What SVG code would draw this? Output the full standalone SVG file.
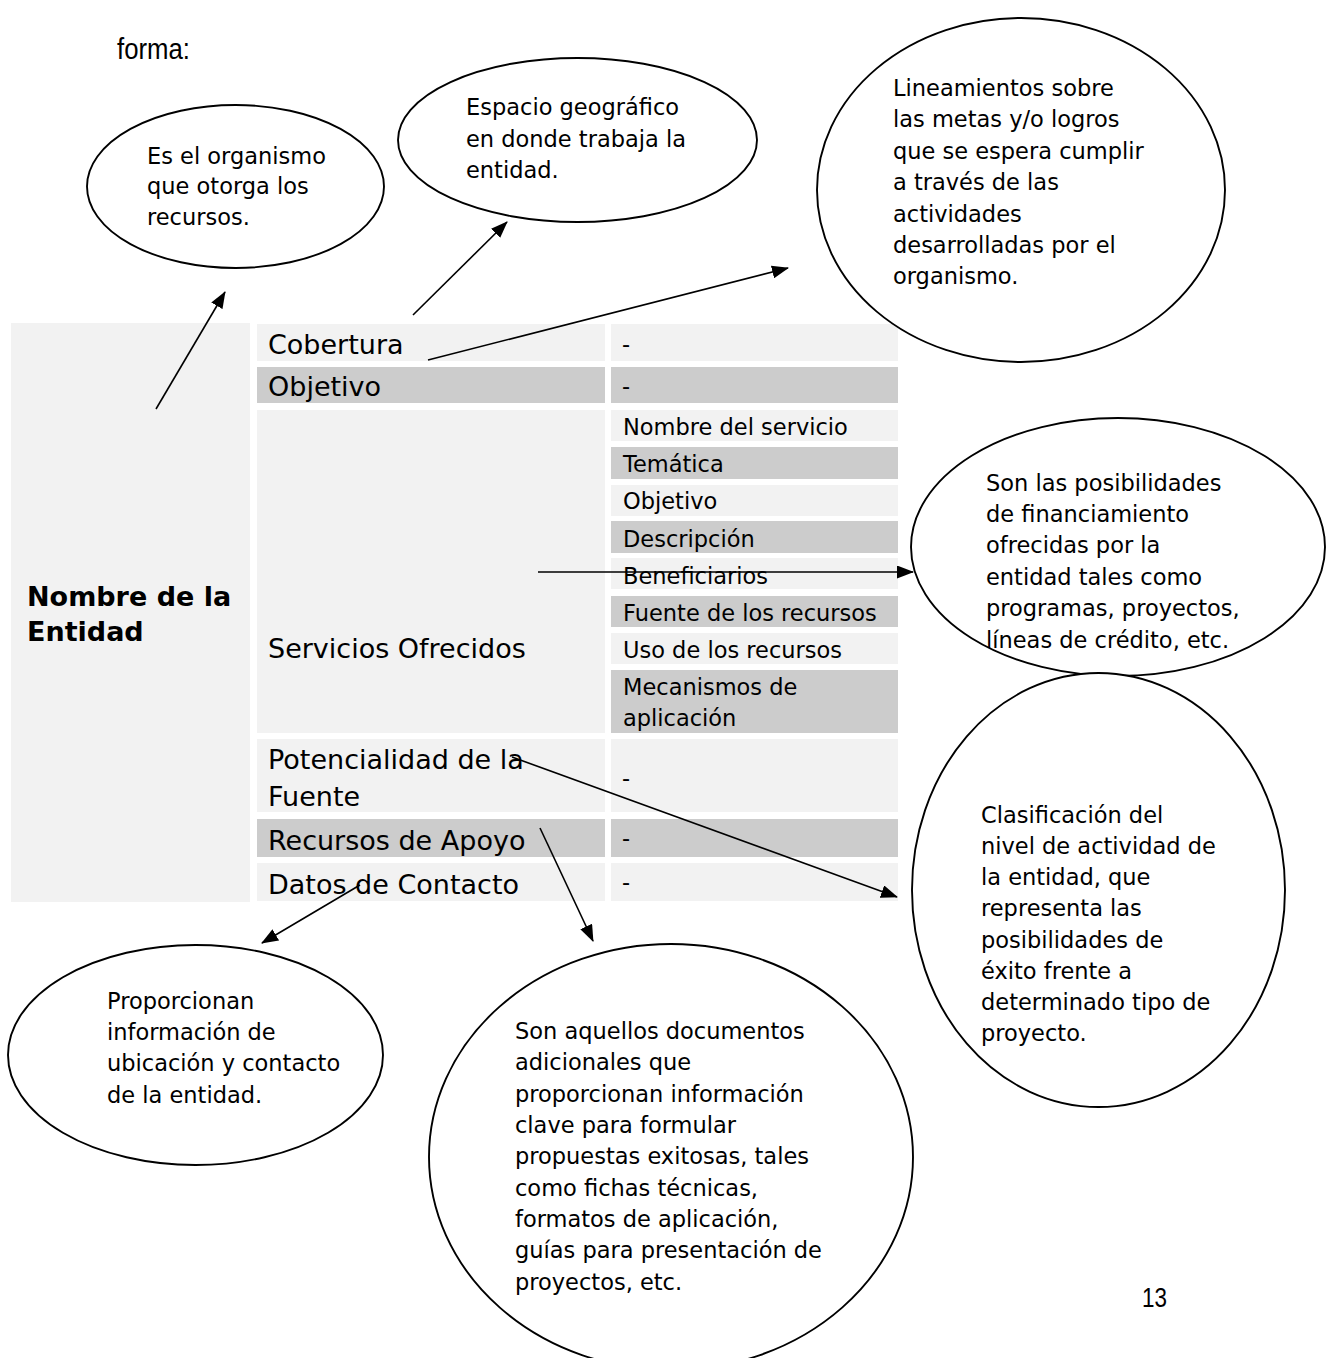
<svg xmlns="http://www.w3.org/2000/svg" width="1332" height="1358" viewBox="0 0 1332 1358">
<style>
.lt{fill:#f2f2f2}
.dk{fill:#cccccc}
.big{font-family:"DejaVu Sans",Verdana,sans-serif;font-size:27px;fill:#000}
.bold{font-family:"DejaVu Sans",Verdana,sans-serif;font-size:27px;font-weight:bold;fill:#000}
.sm{font-family:"DejaVu Sans",Verdana,sans-serif;font-size:22.5px;fill:#000}
.bub{fill:#fff;stroke:#000;stroke-width:1.9}
.con{stroke:#000;stroke-width:1.6;fill:none;marker-end:url(#ah)}
.plain{font-family:"Liberation Sans",Arial,sans-serif;fill:#000}
</style>
<defs>
<marker id="ah" markerUnits="userSpaceOnUse" markerWidth="17" markerHeight="13" refX="16" refY="6.5" orient="auto">
<path d="M0,0 L17,6.5 L0,13 z" fill="#000"/>
</marker>
</defs>
<rect width="1332" height="1358" fill="#fff"/>
<text class="plain" x="117" y="59" font-size="30" textLength="73" lengthAdjust="spacingAndGlyphs">forma:</text>
<text class="plain" x="1142" y="1307" font-size="27" textLength="25" lengthAdjust="spacingAndGlyphs">13</text>

<g id="table">
<rect class="lt" x="11" y="323" width="239" height="579"/>
<text class="bold" x="27" y="606">Nombre de la</text>
<text class="bold" x="27" y="641">Entidad</text>

<rect class="lt" x="257" y="324" width="348" height="37"/>
<text class="big" x="268" y="354">Cobertura</text>
<rect class="lt" x="611" y="324" width="287" height="37"/>
<text class="sm" x="622" y="352">-</text>

<rect class="dk" x="257" y="367" width="348" height="36"/>
<text class="big" x="268" y="396">Objetivo</text>
<rect class="dk" x="611" y="367" width="287" height="36"/>
<text class="sm" x="622" y="394">-</text>

<rect class="lt" x="257" y="410" width="348" height="323"/>
<text class="big" x="268" y="658">Servicios Ofrecidos</text>
<rect class="lt" x="611" y="410" width="287" height="31"/>
<text class="sm" x="623" y="435">Nombre del servicio</text>
<rect class="dk" x="611" y="447" width="287" height="32"/>
<text class="sm" x="623" y="472">Temática</text>
<rect class="lt" x="611" y="485" width="287" height="31"/>
<text class="sm" x="623" y="509">Objetivo</text>
<rect class="dk" x="611" y="521" width="287" height="32"/>
<text class="sm" x="623" y="547">Descripción</text>
<rect class="lt" x="611" y="558" width="287" height="31"/>
<text class="sm" x="623" y="584">Beneficiarios</text>
<rect class="dk" x="611" y="596" width="287" height="31"/>
<text class="sm" x="623" y="621">Fuente de los recursos</text>
<rect class="lt" x="611" y="633" width="287" height="31"/>
<text class="sm" x="623" y="658">Uso de los recursos</text>
<rect class="dk" x="611" y="670" width="287" height="63"/>
<text class="sm" x="623" y="695">Mecanismos de</text>
<text class="sm" x="623" y="726">aplicación</text>

<rect class="lt" x="257" y="739" width="348" height="73"/>
<text class="big" x="268" y="769">Potencialidad de la</text>
<text class="big" x="268" y="806">Fuente</text>
<rect class="lt" x="611" y="739" width="287" height="73"/>
<text class="sm" x="622" y="786">-</text>

<rect class="dk" x="257" y="819" width="348" height="38"/>
<text class="big" x="268" y="850">Recursos de Apoyo</text>
<rect class="dk" x="611" y="819" width="287" height="38"/>
<text class="sm" x="622" y="846">-</text>

<rect class="lt" x="257" y="863" width="348" height="38"/>
<text class="big" x="268" y="894">Datos de Contacto</text>
<rect class="lt" x="611" y="863" width="287" height="38"/>
<text class="sm" x="622" y="890">-</text>
</g>

<g id="bubble-organismo">
<ellipse class="bub" cx="235.5" cy="186.5" rx="148.5" ry="81.5"/>
<text class="sm" x="147" y="164">Es el organismo</text>
<text class="sm" x="147" y="194">que otorga los</text>
<text class="sm" x="147" y="225">recursos.</text>
</g>

<g id="bubble-cobertura">
<ellipse class="bub" cx="577.5" cy="140" rx="179.5" ry="82"/>
<text class="sm" x="466" y="115">Espacio geográfico</text>
<text class="sm" x="466" y="147">en donde trabaja la</text>
<text class="sm" x="466" y="178">entidad.</text>
</g>

<g id="bubble-objetivo">
<ellipse class="bub" cx="1021" cy="190" rx="204" ry="172"/>
<text class="sm" x="893" y="96">Lineamientos sobre</text>
<text class="sm" x="893" y="127">las metas y/o logros</text>
<text class="sm" x="893" y="159">que se espera cumplir</text>
<text class="sm" x="893" y="190">a través de las</text>
<text class="sm" x="893" y="222">actividades</text>
<text class="sm" x="893" y="253">desarrolladas por el</text>
<text class="sm" x="893" y="284">organismo.</text>
</g>

<g id="bubble-servicios">
<ellipse class="bub" cx="1118" cy="547" rx="207" ry="129"/>
<text class="sm" x="986" y="491">Son las posibilidades</text>
<text class="sm" x="986" y="522">de financiamiento</text>
<text class="sm" x="986" y="553">ofrecidas por la</text>
<text class="sm" x="986" y="585">entidad tales como</text>
<text class="sm" x="986" y="616">programas, proyectos,</text>
<text class="sm" x="986" y="648">líneas de crédito, etc.</text>
</g>

<g id="bubble-potencialidad">
<ellipse class="bub" cx="1098.5" cy="890" rx="186.5" ry="217"/>
<text class="sm" x="981" y="823">Clasificación del</text>
<text class="sm" x="981" y="854">nivel de actividad de</text>
<text class="sm" x="981" y="885">la entidad, que</text>
<text class="sm" x="981" y="916">representa las</text>
<text class="sm" x="981" y="948">posibilidades de</text>
<text class="sm" x="981" y="979">éxito frente a</text>
<text class="sm" x="981" y="1010">determinado tipo de</text>
<text class="sm" x="981" y="1041">proyecto.</text>
</g>

<g id="bubble-contacto">
<ellipse class="bub" cx="195.5" cy="1055" rx="187.5" ry="110"/>
<text class="sm" x="107" y="1009">Proporcionan</text>
<text class="sm" x="107" y="1040">información de</text>
<text class="sm" x="107" y="1071">ubicación y contacto</text>
<text class="sm" x="107" y="1103">de la entidad.</text>
</g>

<g id="bubble-recursos">
<ellipse class="bub" cx="671" cy="1157" rx="242" ry="213"/>
<text class="sm" x="515" y="1039">Son aquellos documentos</text>
<text class="sm" x="515" y="1070">adicionales que</text>
<text class="sm" x="515" y="1102">proporcionan información</text>
<text class="sm" x="515" y="1133">clave para formular</text>
<text class="sm" x="515" y="1164">propuestas exitosas, tales</text>
<text class="sm" x="515" y="1196">como fichas técnicas,</text>
<text class="sm" x="515" y="1227">formatos de aplicación,</text>
<text class="sm" x="515" y="1258">guías para presentación de</text>
<text class="sm" x="515" y="1290">proyectos, etc.</text>
</g>

<g id="connectors">
<line class="con" x1="156" y1="409" x2="225" y2="292"/>
<line class="con" x1="413" y1="315" x2="507" y2="222"/>
<line class="con" x1="428" y1="360" x2="788" y2="268"/>
<line class="con" x1="538" y1="572" x2="913" y2="572"/>
<line class="con" x1="512" y1="757" x2="897" y2="897"/>
<line class="con" x1="360" y1="885" x2="262" y2="943"/>
<line class="con" x1="540" y1="828" x2="593" y2="941"/>
</g>
</svg>
